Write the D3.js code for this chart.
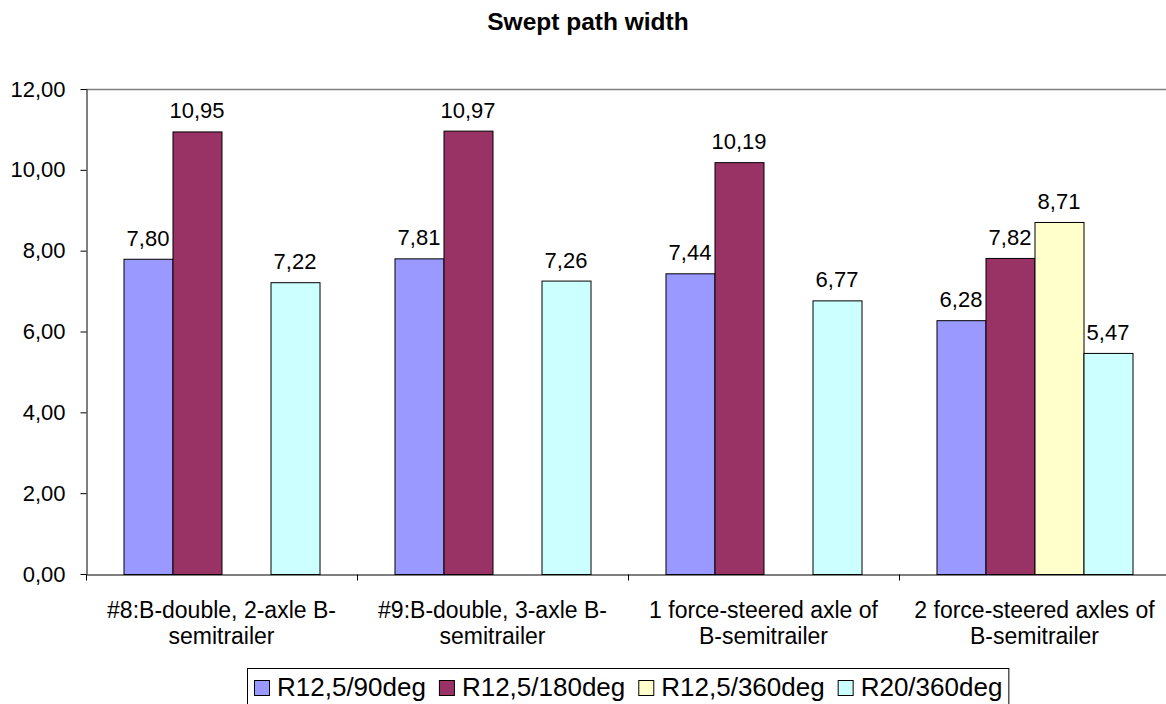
<!DOCTYPE html>
<html>
<head>
<meta charset="utf-8">
<script src="https://cdn.jsdelivr.net/npm/d3@7"></script>
<style>
  html, body { margin: 0; padding: 0; background: #fff; overflow: hidden; }
  svg { display: block; font-family: "Liberation Sans", Arial, sans-serif; }
</style>
</head>
<body>
<svg id="chart" width="1166" height="704"></svg>
<script>
const title = "Swept path width";
const categories = [
  ["#8:B-double, 2-axle B-", "semitrailer"],
  ["#9:B-double, 3-axle B-", "semitrailer"],
  ["1 force-steered axle of", "B-semitrailer"],
  ["2 force-steered axles of", "B-semitrailer"]
];
const seriesNames = ["R12,5/90deg", "R12,5/180deg", "R12,5/360deg", "R20/360deg"];
const seriesColors = ["#9999FF", "#993366", "#FFFFCC", "#CCFFFF"];
const r125_90 = [7.80, 7.81, 7.44, 6.28];
const r125_180 = [10.95, 10.97, 10.19, 7.82];
const r125_360 = [null, null, null, 8.71];
const r20_360 = [7.22, 7.26, 6.77, 5.47];
const yTicks = [0, 2, 4, 6, 8, 10, 12];

const seriesValues = [r125_90, r125_180, r125_360, r20_360];

const svg = d3.select("#chart");
const plot = { left: 86, right: 1170, top: 89, bottom: 574 };
const fmt = v => d3.format(".2f")(v).replace(".", ",");
const fontSize = 22;
const catFontSize = 23;
const legendFontSize = 26;

const x0 = d3.scaleBand().domain(d3.range(categories.length))
  .range([plot.left, plot.right]).paddingInner(0).paddingOuter(0);
const x1 = d3.scaleBand().domain(d3.range(seriesNames.length))
  .range([0, x0.bandwidth()]).paddingInner(0).paddingOuter(0.765);
const y = d3.scaleLinear().domain([0, 12]).range([plot.bottom, plot.top]);

// top border of plot area
svg.append("line")
  .attr("x1", plot.left).attr("x2", plot.right)
  .attr("y1", plot.top + 0.5).attr("y2", plot.top + 0.5)
  .attr("stroke", "#808080").attr("stroke-width", 1.5);

// bars
const groups = svg.append("g").selectAll("g")
  .data(categories.map((c, i) => i))
  .join("g")
  .attr("transform", i => `translate(${x0(i)},0)`);

groups.selectAll("rect")
  .data(i => seriesValues.map((s, k) => ({ k, v: s[i] })).filter(d => d.v != null))
  .join("rect")
  .attr("x", d => x1(d.k) + 0.5)
  .attr("width", x1.bandwidth())
  .attr("y", d => y(d.v) + 0.5)
  .attr("height", d => y(0) - y(d.v))
  .attr("fill", d => seriesColors[d.k])
  .attr("stroke", "#000").attr("stroke-width", 1);

groups.selectAll("text.lbl")
  .data(i => seriesValues.map((s, k) => ({ k, v: s[i] })).filter(d => d.v != null))
  .join("text")
  .attr("class", "lbl")
  .attr("x", d => x1(d.k) + x1.bandwidth() / 2)
  .attr("y", d => y(d.v) - 13)
  .attr("text-anchor", "middle")
  .attr("font-size", fontSize)
  .attr("fill", "#000")
  .text(d => fmt(d.v));

// y axis
const yAxis = d3.axisLeft(y).tickValues(yTicks).tickFormat(fmt).tickSizeInner(6).tickSizeOuter(0).tickPadding(15);
const yg = svg.append("g").attr("transform", `translate(${plot.left + 0.5},0)`).call(yAxis);
yg.select(".domain").attr("stroke", "#000");
yg.selectAll(".tick line").attr("stroke", "#000");
yg.selectAll(".tick text").attr("font-size", fontSize).attr("fill", "#000")
  .attr("font-family", "'Liberation Sans', Arial, sans-serif");

// x axis
const xAxis = d3.axisBottom(x0).tickValues([]).tickSizeOuter(0);
const xg = svg.append("g").attr("transform", `translate(0,${plot.bottom + 0.5})`).call(xAxis);
xg.select(".domain").attr("stroke", "#000");
xg.selectAll("line.sep")
  .data(d3.range(categories.length + 1))
  .join("line")
  .attr("class", "sep")
  .attr("x1", i => (i < categories.length ? x0(i) : plot.right) + 0.5)
  .attr("x2", i => (i < categories.length ? x0(i) : plot.right) + 0.5)
  .attr("y1", 0).attr("y2", 6)
  .attr("stroke", "#000");

// category labels
const catLabels = svg.append("g").selectAll("text")
  .data(categories.map((c, i) => ({ c, i })))
  .join("text")
  .attr("text-anchor", "middle")
  .attr("font-size", catFontSize)
  .attr("fill", "#000");
catLabels.each(function(d) {
  const t = d3.select(this);
  d.c.forEach((line, j) => {
    t.append("tspan")
      .attr("x", x0(d.i) + x0.bandwidth() / 2)
      .attr("y", 618 + j * 26)
      .text(line);
  });
});

// title
svg.append("text")
  .attr("x", 588).attr("y", 30)
  .attr("text-anchor", "middle")
  .attr("font-size", 24.5).attr("font-weight", "bold")
  .attr("fill", "#000")
  .text(title);

// legend
const legend = svg.append("g");
const legBox = legend.append("rect")
  .attr("fill", "#fff").attr("stroke", "#000").attr("stroke-width", 1);
let cx = 254;
seriesNames.forEach((name, k) => {
  legend.append("rect")
    .attr("x", cx + 0.5).attr("y", 680.5)
    .attr("width", 15).attr("height", 15)
    .attr("fill", seriesColors[k]).attr("stroke", "#000");
  const t = legend.append("text")
    .attr("x", cx + 23).attr("y", 696)
    .attr("font-size", legendFontSize)
    .attr("fill", "#000")
    .text(name);
  const w = t.node().getComputedTextLength();
  cx = cx + 23 + w + 13;
});
legBox.attr("x", 247.5).attr("y", 668.5)
  .attr("width", cx - 13 + 6 - 247).attr("height", 44);
</script>
</body>
</html>
